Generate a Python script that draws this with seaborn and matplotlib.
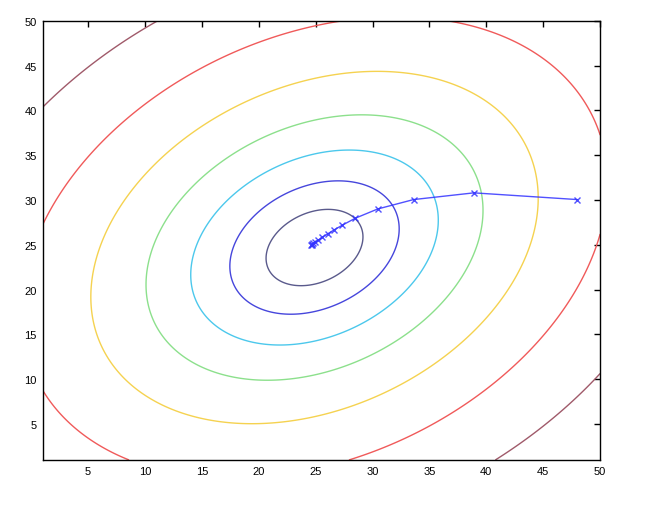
import numpy as np
import pandas as pd
import matplotlib
matplotlib.use("Agg")
import matplotlib.pyplot as plt
import seaborn as sns

# Quadratic cost surface: J = du^2 + dv^2 + CROSS*du*dv
center_x = 24.9
center_y = 24.7
cross_coef = -0.56
levels = [16.7, 51, 109, 202, 356, 611, 1025]
level_colors = ["#5a5a8c", "#4646dc", "#4cc8ec", "#8ce08c", "#f5d250", "#f05a5a", "#a05a6a"]

# gradient descent path
path_x = [48.0, 38.9, 33.6, 30.45, 28.5, 27.35, 26.6, 26.05, 25.6, 25.2, 24.95, 24.8, 24.7, 24.65, 24.62]
path_y = [30.05, 30.8, 30.05, 29.0, 27.98, 27.2, 26.65, 26.22, 25.86, 25.5, 25.3, 25.15, 25.08, 25.03, 25.0]

x_ticks = [5, 10, 15, 20, 25, 30, 35, 40, 45, 50]
y_ticks = [5, 10, 15, 20, 25, 30, 35, 40, 45, 50]

sns.set_style("white")
plt.rcParams['font.family'] = ['Liberation Sans', 'DejaVu Sans']

fig = plt.figure(figsize=(6.48, 5.06), dpi=100)
ax = fig.add_axes([0.0656, 0.089, 0.8606, 0.868])

gx = np.linspace(1, 50, 400)
gy = np.linspace(1, 50, 400)
X, Y = np.meshgrid(gx, gy)
U = X - center_x
V = Y - center_y
Z = U**2 + V**2 + cross_coef * U * V
ax.contour(X, Y, Z, levels=levels, colors=level_colors, linewidths=1.0)

df = pd.DataFrame({"x": path_x, "y": path_y})
sns.lineplot(data=df, x="x", y="y", sort=False, estimator=None, ax=ax,
             color="#3232ff", alpha=0.85, linewidth=1.0, marker="x",
             markersize=5, markeredgewidth=1.0, markeredgecolor="#3232ff")

ax.set_xlim(1, 50)
ax.set_ylim(1, 50)
ax.set_xticks(x_ticks)
ax.set_yticks(y_ticks)
ax.set_xlabel("")
ax.set_ylabel("")
ax.tick_params(direction="in", length=4, width=1, top=True, right=True,
               labelsize=8, colors="black", pad=4)
for s in ax.spines.values():
    s.set_visible(True)
    s.set_color("black")
    s.set_linewidth(1.0)

fig.savefig("out.png", dpi=100, facecolor="white")
